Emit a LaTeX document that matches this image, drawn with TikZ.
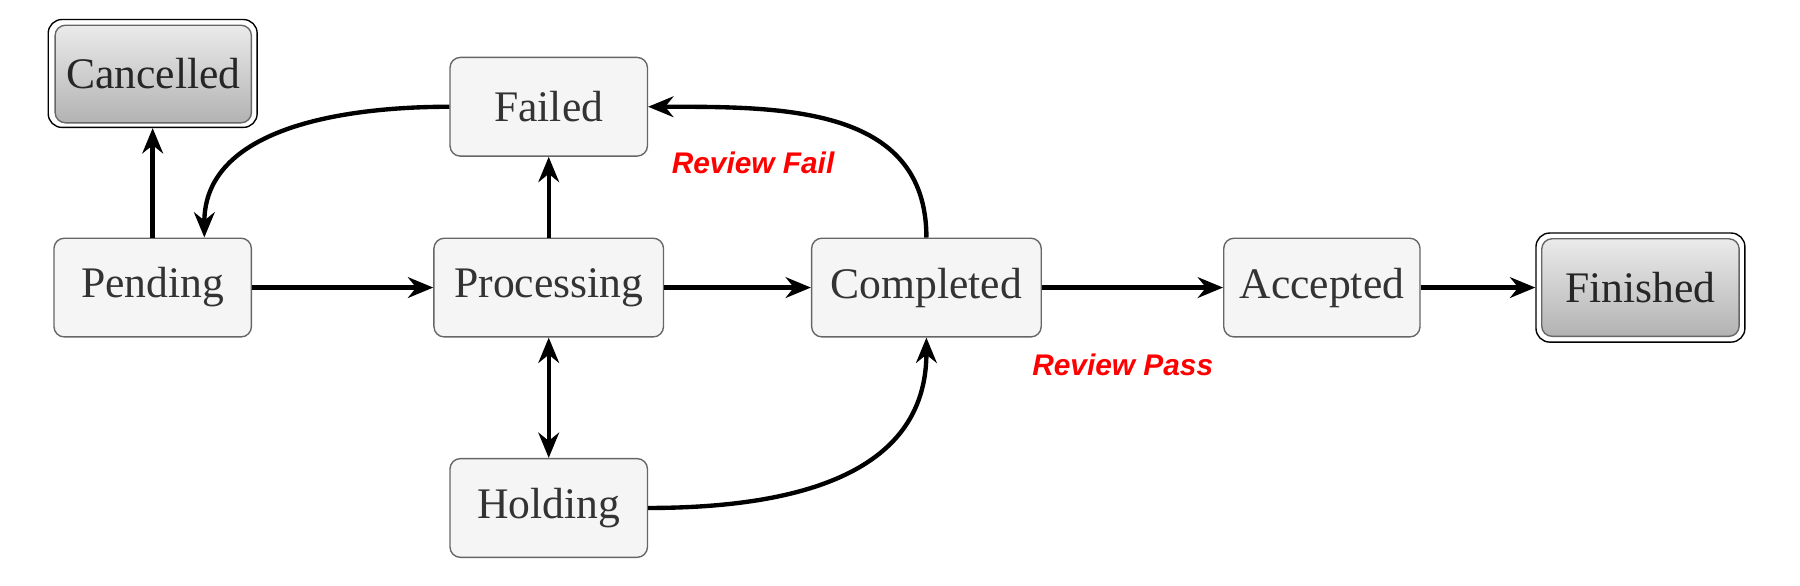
\documentclass[tikz,border=0pt]{standalone}
\usepackage{fontspec}
\setmainfont{Liberation Serif}
\newfontfamily\lblfont{Liberation Sans}
\usetikzlibrary{arrows.meta}
\begin{document}
\begin{tikzpicture}[x=1pt,y=-1pt,
  st/.style={draw=black!60,line width=1.2pt,fill=black!4,rounded corners=9pt,minimum height=86pt,text=black!80,font=\fontsize{38}{42}\selectfont,inner sep=0pt},
  fin/.style={draw=black!60,line width=1.2pt,rounded corners=9pt,minimum height=86pt,text=black!85,top color=black!8,bottom color=black!30,font=\fontsize{38}{42}\selectfont,inner sep=0pt},
  outer/.style={draw=black,line width=1.2pt,rounded corners=12pt,inner sep=0pt},
  tip/.style={Stealth[length=22pt,width=18pt]},
  ar/.style={line width=3.8pt,-{Stealth[length=22pt,width=18pt]}},
  lbl/.style={text=red,font=\lblfont\bfseries\itshape\fontsize{26}{30}\selectfont}]
\useasboundingbox (0,0) rectangle (1568,510);
\node[fin,minimum width=171pt,minimum height=85pt] (can) at (133.5,64.5) {Cancelled};
\node[outer,minimum width=182pt,minimum height=94pt] (cano) at (133,64) {};
\node[fin,minimum width=172pt,minimum height=85pt] (fin) at (1429,250.5) {Finished};
\node[outer,minimum width=182pt,minimum height=95pt] (fino) at (1429,250.5) {};
\node[st,minimum width=172pt] (fail) at (478,93) {Failed};
\node[st,minimum width=172pt] (pend) at (133,250.5) {Pending};
\node[st,minimum width=200pt] (proc) at (478,250.5) {Processing};
\node[st,minimum width=200pt] (comp) at (807,250.5) {Completed};
\node[st,minimum width=171pt] (acc) at (1151.5,250.5) {Accepted};
\node[st,minimum width=172pt] (hold) at (478,442.5) {Holding};
\node[lbl] (l1) at (656,142) {Review Fail};
\node[lbl] (l2) at (978,318) {Review Pass};
\draw[ar] (pend.north) -- (cano.south);
\draw[ar] (fail.west) to[out=180,in=90,looseness=1] ([xshift=45pt]pend.north);
\draw[ar] (proc.north) -- (fail.south);
\draw[ar] (pend.east) -- (proc.west);
\draw[ar] (proc.east) -- (comp.west);
\draw[ar] (comp.north) to[out=90,in=0,looseness=1.1] (fail.east);
\draw[line width=3.8pt,{Stealth[length=22pt,width=18pt]}-{Stealth[length=22pt,width=18pt]}] (proc.south) -- (hold.north);
\draw[ar] (hold.east) to[out=0,in=-90,looseness=1.1] (comp.south);
\draw[ar] (comp.east) -- (acc.west);
\draw[ar] (acc.east) -- (fino.west);
\end{tikzpicture}
\end{document}
